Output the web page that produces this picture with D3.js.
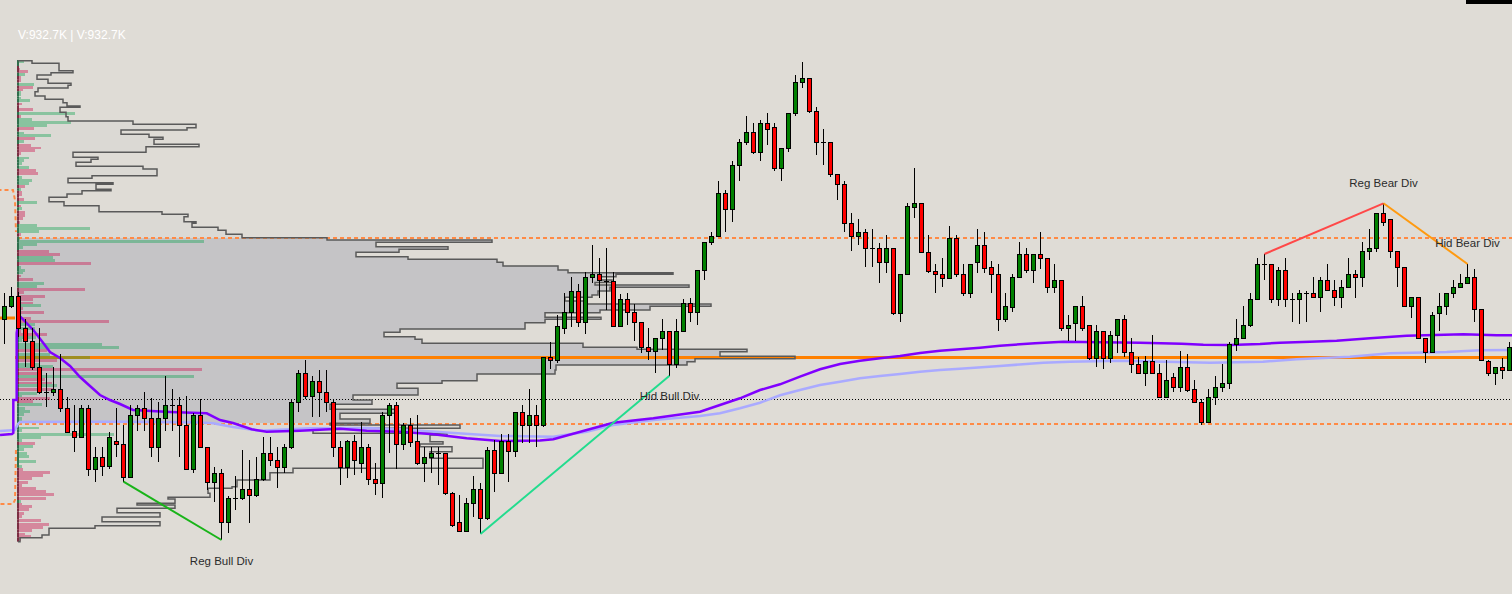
<!DOCTYPE html>
<html><head><meta charset="utf-8">
<script src="https://cdn.jsdelivr.net/npm/d3@7"></script>
<style>html,body{margin:0;padding:0;background:#dfdcd6;overflow:hidden}svg{display:block}</style>
</head><body>
<svg id="c" width="1512" height="594"></svg>
<script>
// ---------- candle data (index 0..215) ----------
const opens=[280.7,293.7,303.7,271.7,258.7,232.7,207.7,207.7,211,191.7,169,162.7,191.7,130.7,142.7,133.7,159,155.7,123.3,185,191.7,181.7,152.7,181.7,195,195,175,130.7,185,152.7,117.7,126.7,78.3,101.7,101.7,110.7,104.7,120.7,146.7,139.7,133.3,152.7,197.7,226.7,204,219.3,207.7,197.7,152.7,133.3,159,136.7,152.7,120.7,117.3,185,195,155.7,175,159,136.7,142.7,146.7,146.7,107.5,78.3,69.5,97.5,110.7,81.7,150,126.7,159,149.3,187.7,175,185,175,242.7,240,271.7,287.7,309.3,277.7,322.7,326,319.3,319.3,274.3,300.7,287.7,277.7,252.7,249,261.7,269,235.7,269,296.7,287.5,329.7,357.7,364.3,406.7,390.7,434.7,457.7,467.7,447.7,476.7,473.3,431.7,451.7,486.7,518.3,521.7,489.3,457.7,457.7,425.7,415.7,377.3,364.3,367.7,351.7,351.7,338.3,351.7,287.3,325.7,393.3,396.7,348.3,329.3,325.7,322.3,361.7,325.7,306.7,338.3,355,332.7,325.7,280.7,293.3,322.7,345.7,330,345.7,341.7,312.7,320,271.7,277.3,294,275,242.3,269,242.3,265,280.7,248.3,235.7,226.7,239.3,226.7,203.3,223.3,213.3,232.7,210.7,197.7,178.3,203.3,213.3,216.7,255.7,261.7,275,300.7,335.7,335.7,300.7,330,300.7,300.7,306.7,306.7,303.3,320,310,303.3,312.7,325.7,322.7,349,351.7,386.7,380.7,349,332.7,294,303.3,261.7,248.3,287.3,294,306.7,312.7,316.7,322.7,290.7,239.3,226.7,232.7,230];
const highs=[306.7,312.7,308,280.7,271.7,271.7,226.7,233.3,246,203.3,195,195,195,153.3,153.3,168.3,191.7,175,195,195,207.7,201.7,198.3,224,211,203.3,204.3,187,200.7,153.3,133.3,130.7,104,124,150,140,142.7,163.3,163.3,152.7,156,200.7,230,240,224,230,230,200.7,159,160,165,178.3,156,136.7,188.3,197,198.3,177,181.7,185,153.3,153.3,153.3,147,108,105,101.7,123.7,117.3,152.7,160,166,166,188,195,210.7,195,243,258.3,285,306.7,322.7,316,328.3,355,341.7,351.7,328.3,306,306.7,296,277.7,271.7,261.7,280.7,269,280.7,300.7,301.7,330,357.7,368.3,419,410,439,461,484,476.7,480,486.7,476.7,451.7,486.7,525,537.7,521.7,492.7,471,457.7,425.7,419,386.7,380.7,370.7,370.7,357.3,365,351.7,325.7,396.7,431.7,396.7,365,336,341.7,374,365,336,335.7,370.7,368,339,335.7,306.7,326,358,351.7,345.7,368,341.7,335.7,320,285,294,304,275,275,269,269,280.7,285,261.7,242.7,244,265,235.7,240,226.7,249,246,220,200.7,211,224,235.7,258.3,280.7,294,306.7,341.7,346,335.7,333.3,341.7,306.7,310,309.3,322.7,322.7,335.7,320,320,341.7,330,358.3,370.7,387,396.7,380.7,349,332.7,303.3,303.3,261.7,288.3,306.7,306.7,320,325.7,336,330.7,290.7,240,232.7,241.7,258.3];
const lows=[256,291.7,263,233.3,230,206,193.3,204.3,188.3,167,147.7,161.7,124.3,118.3,124.3,131,143.3,118.3,123.3,169.3,169.3,143.3,137.7,169.3,169.3,143.3,130,127.3,152.7,110,98.3,60,66.7,90,100,76.7,103.3,119,134,111.7,127.3,150.7,188.3,200.7,182.7,182.7,188.3,143.3,115,121.7,125,126.7,115,105,102.3,146.7,130.7,150,153.3,135,118.3,127.3,115,105,73.3,69,69,83,66,80,108.3,126,118.3,143.3,156.7,156.7,153.3,172.7,230.7,236.7,266,272.7,272.7,266,317.3,301.7,290,274,274,275,259.3,246.7,240,227.3,250,224.3,232,269,278.3,275,320,355,364.3,368.3,378.3,419.3,455,445.7,439,455,429.3,419.3,448.3,484.3,512.3,487.3,445,435,423.3,400,368.3,349.3,355,333.3,333.3,317.3,326.7,285,278.3,325.7,381.7,348.3,326.7,307.3,313.3,320.7,323.3,304.3,301.7,326.7,326.7,307.3,269.3,278.3,288.3,322.7,326.7,317.3,330.7,307.3,307.3,269.3,259.3,259.3,269.3,240,233.3,230.7,236.7,246.7,243.3,227.3,226.7,214,226.7,203.3,203.3,208.3,208.3,208.3,197.7,175,178.3,195,208.3,211,249.3,261.7,272.7,300.7,320,297.3,294,293.3,278.3,275.7,278.3,303.3,288.3,310,294,291.7,312.7,301.7,313.3,340,348.3,374.3,342.3,313.3,294,281.7,261.7,236.7,248.3,269.3,285,301.7,312.7,316.7,278.3,240,224,215,220.7,230];
const closes=[293.7,303.7,271.7,258.7,232.7,207.7,207.7,211,191.7,168.3,162.7,191.7,130.7,142.7,133.7,162.7,155.7,123.3,185,191.7,181.7,152.7,181.7,195,195,175,130.7,185,152.7,117.7,126.7,78.3,101.7,101.7,110.7,104.7,120.7,146.7,139.7,133.3,152.7,197.7,226.7,204,219.3,207.7,197.7,152.7,133.3,159,139.7,152.7,120.7,117.3,185,195,155.7,175,158.3,136.7,142.7,146.7,146.7,107.3,75.5,69.5,97.5,110.7,81.7,150,126.7,159,149.3,187.7,175,185,175,242.7,240,274.3,287.7,309.3,277.7,322.7,326,320,319.3,274.3,300.7,287.7,277.7,252.7,249,261.7,269,235.7,269,296.7,287.5,329.7,357.7,364.3,406.7,390.7,434.7,457.7,467.7,447.7,476.7,470.7,431.7,451.7,486.7,518.3,521.7,489.3,457.7,457.7,425.7,415.7,377.3,364.3,367.7,351.7,351.7,338.3,351.7,287.3,325.7,394,396.7,348.3,329.3,325.7,322.3,361.7,325.7,306.7,335.7,355,332.3,325.7,280.7,294,322.7,345.7,330,345.7,341.7,312.7,320,271.7,275,294,271.7,242.3,269,242.3,265,280.7,248.3,235.7,226.7,239.3,226.7,203.3,220,213.3,232.7,210,197.7,178.3,203.3,213.3,216.7,255.7,261.7,275,300.7,335.7,335.7,300.7,330,300.7,300.7,306.7,306.7,303.3,320,310,303.3,312.7,325.7,322.7,349,351.7,386.7,377.7,349,332.7,294,303.3,261.7,248.3,285,294,306.7,312.7,316.7,322.7,290.7,240,226.7,232.7,230,252.7];

// ---------- session volume profile ----------
const sessionStart=1.93;
const profLevel=[539.3,536.7,529.3,527.3,525,520.7,516.7,514.7,512,508.3,504,500.7,497.3,494,492.7,487.7,483.3,479,475.7,472.3,470,465.7,462.7,460.7,455.7,453.3,447.7,442.7,440.7,437.7,433.7,431,424.3,421.7,417.3,415.7,410.7,409.3,406,402.7,398.3,394.3,388.3,385.7,383.3,378.3,376.7,372.7,369.7,365.7,362.3,360,357.7,353.3,350.7,347.7,343.3,340.7,337.7,334,330,327.3,325.7,323.3,320,317.5,315,312.7,309,305,302.7,299,296,293.7,290,287.3,282.7,280.7,277.3,271,267.7,263.3,260.7,256.7,252.7,250.7,248.3,243.7,241.3,238.3,235,230,226,219.3,216.7,211.7,205,200,195.7,190.7,186.7,181,176.7,175,171.7,166.7,165,158.3,156,153.3,148.3,141.7,131.7,127.3,120,113.3,111.7,106.7,102.7,101,96.7,95,91.7,87.3,83,78.3,74.3,71.7,65,62.3];
const profVol=[14,41,55,33,19,30,53,50,20,17,27,45,49,62,42,48,50,115,178,169,103,131,145,136,181,128,55,80,73,58,125,139,74,50,95,78,93,64,49,31,46,81,144,170,166,178,174,200,208,224,309,474,358,430,381,338,390,479,485,540,550,655,598,582,594,577,671,592,580,574,547,567,693,632,582,527,583,527,507,382,366,397,404,565,619,729,702,777,677,669,538,537,459,424,379,400,335,354,312,379,322,352,312,442,295,429,412,425,402,434,412,465,275,252,219,214,190,192,150,157,119,157,99,142,84,142,77,31,24,2];
const profBottom=58.3;
// buy / sell split per price row
const deltaLevel=[540,537,534,532,530,527.3,524,520.7,517.3,514.3,511.3,508.7,506,503.5,501.3,497.3,494.7,492,488,485,482,479,475.7,472.7,468.3,465.7,463.3,460,456,453.3,450.7,447.7,443.3,440.7,437.7,434.3,431.3,428.3,424.3,421.3,418.3,415.3,411.7,409.3,406.7,402.3,399,395,392.7,389.3,386.3,383.3,379.3,376,372.7,370,366.7,363.3,360,357.3,354,350,347.3,344,340.7,338,334,331,328.3,325.5,322,318.3,315,312.3,309,305,302.3,298.3,296,293.3,289.3,286,283.3,280,277.3,273.3,270,267.3,264,260.7,257.3,254,250.7,247.3,244,240.7,237.3,235,231.7,228.3,225,222.3,218.3,215.7,212.3,208.3,205,203.3,200,196.7,193.3,190,186.7,183.3,180,173.3,170.7,167.3,164,160.7,158.3,155,151.7,148.3,145,140,135,132.3,129.3,126,122.7,119.3,116.3,113.3,110,106.7,103.3,100,97,95,91.7,88.3,85,80.7,77.3,74,70.7,67.3,65,62.3];
const deltaSide=["B","B","S","S","S","B","S","S","B","S","S","B","B","B","B","S","S","S","B","S","B","B","B","S","B","B","S","B","S","S","S","S","B","B","B","B","S","S","B","B","B","S","B","S","S","S","B","S","B","S","S","S","S","B","B","B","S","B","B","B","B","S","S","B","B","S","B","B","B","S","S","B","B","S","S","S","S","S","B","S","S","B","S","S","B","B","S","S","B","B","B","B","S","B","B","S","B","B","S","S","B","S","S","B","S","B","B","S","S","B","B","B","B","B","B","B","B","B","B","B","S","B","B","B","B","B","B","S","S","S","S","S","S","S","S","S","S","B","S","S","S","S","S","S","S","S","S","S","S","S"];
const deltaVol=[6,1,1,2,10,7,3,3,16,15,5,3,3,3,12,4,1,15,57,3,14,53,29,16,6,33,17,6,13,23,17,3,11,6,4,11,18,20,4,14,11,7,3,4,4,6,19,3,4,7,7,5,2,19,72,21,3,2,186,19,5,31,42,35,37,73,3,7,5,3,15,26,19,67,6,27,15,15,23,5,26,3,13,91,17,17,3,29,18,4,84,101,29,32,72,39,22,35,184,24,176,27,34,39,35,19,4,32,15,24,7,12,6,4,4,21,4,96,23,4,17,15,6,9,11,18,4,5,32,25,14,10,4,18,28,36,28,3,4,14,11,6,4,23,31,25,14,7,13,3];
// key levels
const vaHigh=362, vaLow=176, poc=242.5, refLevel=201, prevPoc=282, prevVaHigh=410, prevVaLow=96;

// ---------- indicator lines ----------
const vwapIdx=[-0.64,1.07,1.26,1.26,1.74,1.74,2.07,2.31,4.11,5.54,6.5,7.93,9.36,10.79,12.21,13.64,15.07,16.5,18.36,23.64,28.89,30.79,32.64,35.31,37.46,42.21,47.93,51.74,56.5,61.26,66.03,70.79,76.5,78.4,83.17,86.97,92.69,99.36,102.21,105.07,107.93,110.79,113.64,116.5,119.36,122.21,125.07,127.93,130.79,133.64,136.5,139.36,142.21,147.21,151.26,162.21,168.17,171.26,175.07,179.36,182.21,186.5,190.31,195.07,200.31,208.4,213.17,215.36];
const vwapVal=[165,166,167,200,200,267,282,283,270,257,248,242,234,223,214,205,200,196,190,188,186.7,180,177,170.7,168.3,169.3,171.3,169.3,168.3,165.7,161.7,159,159.5,160.7,170,177.3,181.7,188.3,195,201.7,210,215.7,223.3,230.7,236,239.3,241.7,244,247,249.3,250.7,252.3,254.3,256.7,258.3,257.3,256.3,255.3,255,256,257.3,258.3,259.3,261.7,264.3,265.7,264.7,264.7];
const avgIdx=[-0.64,1.5,1.93,2.21,16.5,27.93,29.79,32.64,36.5,43.64,51.74,56.5,63.64,70.79,78.4,83.17,86.97,92.69,99.36,102.21,105.07,107.93,110.79,113.64,116.5,119.36,122.21,125.07,127.93,130.79,133.64,136.5,142.21,148.4,152.21,159.36,172.21,179.79,184.6,192.21,197.93,206.03,210.79,215.36];
const avgVal=[169,170,176,178,178.3,177.5,176.7,173,169.3,171.7,172,170.7,167.3,164,163.3,168.3,175,180,184,186.7,191.7,197.3,204.7,210,215,218.3,221.7,224,226,228.3,230,231.3,234,237.3,238.3,239.3,237.3,238.3,240.7,243.3,246.7,248,249.7,250];

// ---------- divergences ----------
const divNames=["Reg Bull Div","Hid Bull Div","Reg Bear Div","Hid Bear Div"];
const divFrom=[17,68,180,197], divFromPx=[118.3,66,346,396.7];
const divTo=[31,95,197,209], divToPx=[60,224.3,396.7,336];
const divColor=["#19b419","#22dc8e","#ff4848","#ff9a10"];
const labelIdx=[31,95,197,209], labelPx=[39,204,417,357];
const headerText="V:932.7K | V:932.7K";

// ================= drawing =================
const svg=d3.select("#c");
const x=d3.scaleLinear().domain([0,215]).range([4.5,1509.5]);
const y=d3.scaleLinear().domain([0,600]).range([600,0]);
const v=d3.scaleLinear().domain([0,800]).range([0,800]);
const xs=x(sessionStart);
const xEnd=1512;

svg.append("rect").attr("width",1512).attr("height",594).attr("fill","#dfdcd6");

// profile fills
const rows=profLevel.map((t,i)=>({top:t,bot:i<profLevel.length-1?profLevel[i+1]:profBottom,vol:profVol[i]}));
svg.append("g").attr("shape-rendering","crispEdges").selectAll("rect").data(rows).join("rect")
  .attr("x",xs).attr("y",d=>y(d.top)).attr("width",d=>v(d.vol)).attr("height",d=>y(d.bot)-y(d.top)+0.4)
  .attr("fill",d=>{const m=(d.top+d.bot)/2;return (m<vaHigh&&m>vaLow)?"#c5c4c6":"#dbd9d4";});

// key level lines
const lvl=svg.append("g");
lvl.append("line").attr("x1",x(-1)).attr("x2",x(1.5)).attr("y1",y(prevPoc)).attr("y2",y(prevPoc))
  .attr("stroke","#ff8000").attr("stroke-width",3);
lvl.append("line").attr("x1",x(1.5)).attr("x2",xEnd).attr("y1",y(poc)).attr("y2",y(poc))
  .attr("stroke","#ff8000").attr("stroke-width",3);
[vaHigh,vaLow].forEach(p=>lvl.append("line").attr("x1",xs).attr("x2",xEnd).attr("y1",y(p)).attr("y2",y(p))
  .attr("stroke","#ff8a45").attr("stroke-width",2).attr("stroke-dasharray","4,3"));
lvl.append("line").attr("x1",0).attr("x2",xEnd).attr("y1",Math.round(y(refLevel))+0.5).attr("y2",Math.round(y(refLevel))+0.5)
  .attr("stroke","#000").attr("stroke-width",1).attr("stroke-dasharray","1,2");
const ln=d3.line().x(d=>x(d[0])).y(d=>y(d[1]));
lvl.append("path").attr("d",ln([[-1,prevVaHigh],[1.21,prevVaHigh],[1.5,prevVaHigh-10],[1.64,prevVaHigh-42]]))
  .attr("fill","none").attr("stroke","#ff8a45").attr("stroke-width",2).attr("stroke-dasharray","4,3");
lvl.append("path").attr("d",ln([[1.64,prevVaLow+54],[1.5,prevVaLow+4],[1.21,prevVaLow],[-1,prevVaLow]]))
  .attr("fill","none").attr("stroke","#ff8a45").attr("stroke-width",2).attr("stroke-dasharray","4,3");

// buy/sell bars
const bars=deltaLevel.map((t,i)=>({top:t,side:deltaSide[i],vol:deltaVol[i],
  h:Math.min(2.8,i<deltaLevel.length-1?t-deltaLevel[i+1]-0.2:2.8)}));
svg.append("g").attr("shape-rendering","crispEdges").selectAll("rect").data(bars).join("rect")
  .attr("x",xs).attr("y",d=>y(d.top)).attr("width",d=>v(d.vol)).attr("height",d=>y(d.top-d.h)-y(d.top))
  .attr("fill",d=>d.side==="B"?"rgb(15,162,79)":"rgb(205,15,74)").attr("fill-opacity",0.4);
// baseline of profile
svg.append("g").selectAll("line").data(bars).join("line")
  .attr("x1",xs).attr("x2",xs).attr("y1",d=>y(d.top)).attr("y2",(d,i)=>y(i<bars.length-1?bars[i+1].top:profBottom))
  .attr("stroke",d=>d.side==="B"?"#2f6e4c":"#7a2e42").attr("stroke-width",2);

// profile outline
let pd=`M${xs},${y(rows[0].top)}`;
rows.forEach(r=>{const xx=xs+v(r.vol);pd+=`L${xx},${y(r.top)}L${xx},${y(r.bot)}`;});
pd+=`L${xs},${y(profBottom)}`;
svg.append("path").attr("d",pd).attr("fill","none").attr("stroke","#5a5a5a").attr("stroke-width",1.5);

// vwap-style lines
const lineGen=d3.line().x(d=>x(d[0])).y(d=>y(d[1]));
svg.append("path").attr("d",lineGen(avgIdx.map((d,i)=>[d,avgVal[i]]))).attr("fill","none")
  .attr("stroke","#aaaaff").attr("stroke-width",2.5);
svg.append("path").attr("d",lineGen(vwapIdx.map((d,i)=>[d,vwapVal[i]]))).attr("fill","none")
  .attr("stroke","#8000ff").attr("stroke-width",2.5);

// candles
const data=opens.map((o,i)=>({i,o,h:highs[i],l:lows[i],c:closes[i]}));
const cg=svg.append("g").attr("shape-rendering","crispEdges");
cg.selectAll("line.w").data(data).join("line").attr("class","w")
  .attr("x1",d=>x(d.i)).attr("x2",d=>x(d.i)).attr("y1",d=>Math.round(y(d.h))).attr("y2",d=>Math.round(y(d.l)))
  .attr("stroke","#000").attr("stroke-width",1);
cg.selectAll("rect.b").data(data.filter(d=>d.o!==d.c)).join("rect").attr("class","b")
  .attr("x",d=>x(d.i)-2).attr("width",4)
  .attr("y",d=>Math.round(y(Math.max(d.o,d.c)))+0.5)
  .attr("height",d=>Math.max(1,Math.round(y(Math.min(d.o,d.c)))-Math.round(y(Math.max(d.o,d.c)))))
  .attr("fill",d=>d.c>d.o?"#008000":"#ff0000").attr("stroke","#000").attr("stroke-width",1);
cg.selectAll("line.d").data(data.filter(d=>d.o===d.c)).join("line").attr("class","d")
  .attr("x1",d=>x(d.i)-2.5).attr("x2",d=>x(d.i)+2.5)
  .attr("y1",d=>Math.round(y(d.o))+0.5).attr("y2",d=>Math.round(y(d.o))+0.5)
  .attr("stroke","#000").attr("stroke-width",1);

// divergence lines
svg.append("g").selectAll("line").data(divNames).join("line")
  .attr("x1",(d,i)=>x(divFrom[i])).attr("y1",(d,i)=>y(divFromPx[i]))
  .attr("x2",(d,i)=>x(divTo[i])).attr("y2",(d,i)=>y(divToPx[i]))
  .attr("stroke",(d,i)=>divColor[i]).attr("stroke-width",2);
svg.append("g").selectAll("text").data(divNames).join("text")
  .attr("x",(d,i)=>x(labelIdx[i])).attr("y",(d,i)=>y(labelPx[i]))
  .attr("text-anchor","middle").attr("dominant-baseline","central")
  .attr("font-family","'Liberation Sans', Arial, sans-serif").attr("font-size",11.5).attr("fill","#2b2b2b")
  .text(d=>d);

// header text
svg.append("text").attr("x",18).attr("y",39).attr("font-family","'Liberation Sans', Arial, sans-serif")
  .attr("font-size",12).attr("fill","#ffffff").text(headerText);
svg.append("rect").attr("x",1466).attr("y",0).attr("width",46).attr("height",4).attr("fill","#000");
</script>
</body></html>
